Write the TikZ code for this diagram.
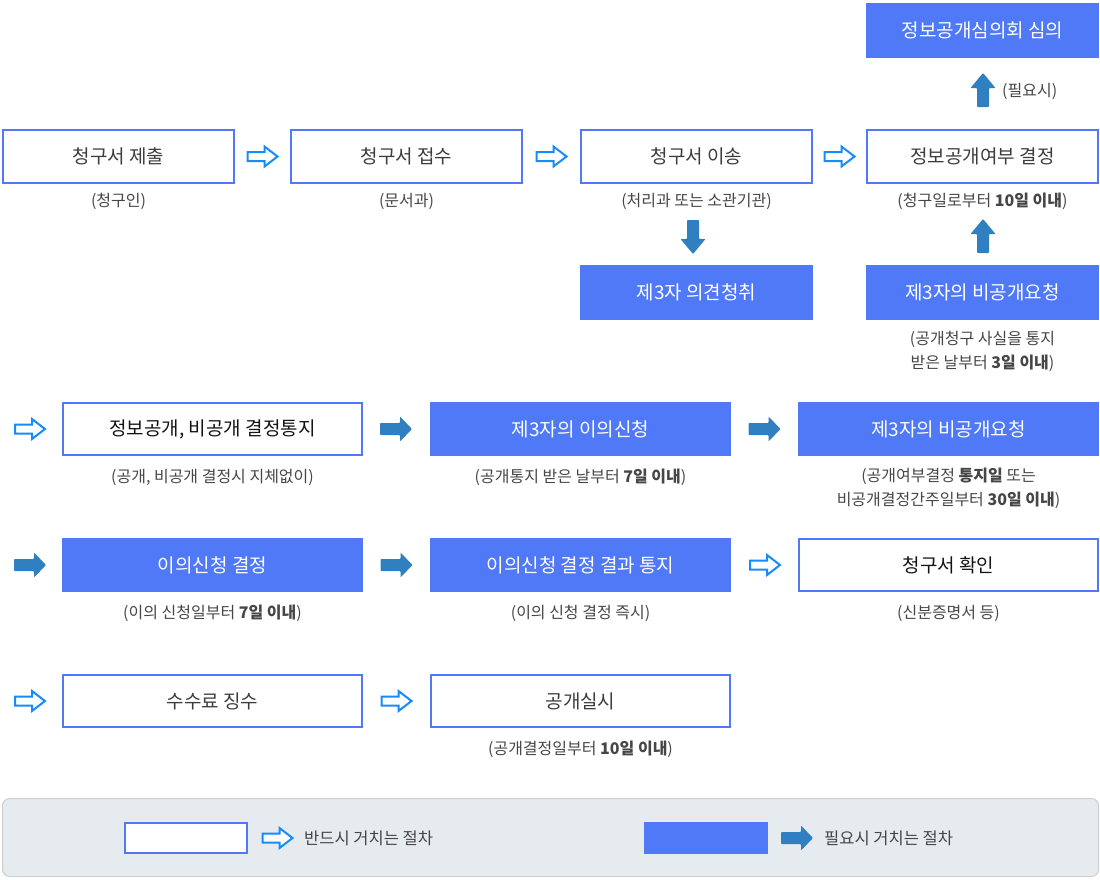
\documentclass[tikz,border=0pt]{standalone}
\usepackage{fontspec}
\setmainfont{Noto Sans CJK KR}
\usetikzlibrary{calc}
\definecolor{boxblue}{RGB}{80,121,248}
\definecolor{arrblue}{RGB}{47,127,193}
\definecolor{holblue}{RGB}{22,140,250}
\definecolor{txtbox}{RGB}{60,60,60}
\definecolor{txtdark}{RGB}{20,20,20}
\definecolor{txtcap}{RGB}{70,70,70}
\definecolor{legbg}{RGB}{230,235,240}
\definecolor{legline}{RGB}{204,208,212}
\tikzset{
  wbox/.style={draw=boxblue, line width=2pt, fill=white, text=txtbox, inner sep=0pt, outer sep=0pt,
    font=\fontsize{19}{22}\selectfont},
  fbox/.style={fill=boxblue, text=white, inner sep=0pt, outer sep=0pt,
    font=\fontsize{19}{22}\selectfont},
  wsmall/.style={wbox, minimum width=231, minimum height=53},
  fsmall/.style={fbox, minimum width=233, minimum height=55},
  wlarge/.style={wbox, minimum width=299, minimum height=52},
  flarge/.style={fbox, minimum width=301, minimum height=54},
  captext/.style={text=txtcap, align=center, inner sep=0pt, font=\fontsize{16}{24}\selectfont},
  legtext/.style={text=txtcap, anchor=west, inner sep=0pt, font=\fontsize{16.5}{19}\selectfont},
  hollowR/.pic={\draw[holblue, line width=2pt, fill=white, line join=miter]
      (-15,-4.5) -- (2,-4.5) -- (2,-10) -- (15,0) -- (2,10) -- (2,4.5) -- (-15,4.5) -- cycle;},
  filledR/.pic={\fill[arrblue, rounded corners=0.8pt]
      (-16,-6) -- (4,-6) -- (4,-12.5) -- (16,0) -- (4,12.5) -- (4,6) -- (-16,6) -- cycle;},
  filledD/.pic={\fill[arrblue, rounded corners=0.8pt]
      (-6,-17) -- (6,-17) -- (6,2) -- (12.5,2) -- (0,17) -- (-12.5,2) -- (-6,2) -- cycle;},
  filledU/.pic={\fill[arrblue, rounded corners=0.8pt]
      (-6,17) -- (6,17) -- (6,-2) -- (12.5,-2) -- (0,-17) -- (-12.5,-2) -- (-6,-2) -- cycle;},
}
\begin{document}
\begin{tikzpicture}[x=1pt, y=-1pt]
\useasboundingbox (0,0) rectangle (1100,879);

% row 0
\node[fsmall] (council) at (982.5,30.5) {정보공개심의회 심의};
% row 1
\node[wsmall] (submit) at (118.5,156.5) {청구서 제출};
\node[wsmall] (receive) at (406.5,156.5) {청구서 접수};
\node[wsmall] (transfer) at (696.5,156.5) {청구서 이송};
\node[wsmall] (decide) at (982.5,156.5) {정보공개여부 결정};
\node[captext] (c1) at (118.5,201) {(청구인)};
\node[captext] (c2) at (406.5,201) {(문서과)};
\node[captext] (c3) at (696.5,201) {(처리과 또는 소관기관)};
\node[captext] (c4) at (982.5,201) {(청구일로부터 \textbf{10일 이내})};
\pic (a01) at ($(submit.east)!0.5!(receive.west)$) {hollowR};
\pic (a02) at ($(receive.east)!0.5!(transfer.west)$) {hollowR};
\pic (a03) at ($(transfer.east)!0.5!(decide.west)$) {hollowR};
\pic (a04) at (983,90) {filledU};
\node[captext, anchor=west] (need) at (1002,91) {(필요시)};
% row 2
\node[fsmall] (opinion) at (696.5,292.5) {제3자 의견청취};
\node[fsmall] (nondisc) at (982.5,292.5) {제3자의 비공개요청};
\pic (a05) at (693,237) {filledD};
\pic (a06) at (983,236) {filledU};
\node[captext] (c5) at (982.5,351) {(공개청구 사실을 통지\\받은 날부터 \textbf{3일 이내})};
% row 3
\node[wlarge, text=txtdark] (notice) at (212.5,429) {정보공개, 비공개 결정통지};
\node[flarge] (objection) at (580.5,429) {제3자의 이의신청};
\node[flarge] (nondisc2) at (948.5,429) {제3자의 비공개요청};
\pic (a07) at (30,429) {hollowR};
\pic (a08) at ($(notice.east)!0.5!(objection.west)$) {filledR};
\pic (a09) at ($(objection.east)!0.5!(nondisc2.west)$) {filledR};
\node[captext] (c6) at (212.5,477) {(공개, 비공개 결정시 지체없이)};
\node[captext] (c7) at (580.5,477) {(공개통지 받은 날부터 \textbf{7일 이내})};
\node[captext] (c8) at (948.5,488.5) {(공개여부결정 \textbf{통지일} 또는\\비공개결정간주일부터 \textbf{30일 이내})};
% row 4
\node[flarge] (objdec) at (212.5,565) {이의신청 결정};
\node[flarge] (objres) at (580.5,565) {이의신청 결정 결과 통지};
\node[wlarge, text=txtdark] (idcheck) at (948.5,565) {청구서 확인};
\pic (a10) at (30,565) {filledR};
\pic (a11) at ($(objdec.east)!0.5!(objres.west)$) {filledR};
\pic (a12) at ($(objres.east)!0.5!(idcheck.west)$) {hollowR};
\node[captext] (c9) at (212.5,613) {(이의 신청일부터 \textbf{7일 이내})};
\node[captext] (c10) at (580.5,613) {(이의 신청 결정 즉시)};
\node[captext] (c11) at (948.5,613) {(신분증명서 등)};
% row 5
\node[wlarge] (fee) at (212.5,701) {수수료 징수};
\node[wlarge] (open) at (580.5,701) {공개실시};
\pic (a13) at (30,701) {hollowR};
\pic (a14) at ($(fee.east)!0.5!(open.west)$) {hollowR};
\node[captext] (c12) at (580.5,749) {(공개결정일부터 \textbf{10일 이내})};
% legend
\draw[legline, fill=legbg, line width=1pt, rounded corners=7pt] (2.5,798.5) rectangle (1098.5,876.5);
\node[wbox, minimum width=122, minimum height=30] (lw) at (185.5,838) {};
\pic (la1) at (277.5,838) {hollowR};
\node[legtext] (lt1) at (304,838) {반드시 거치는 절차};
\node[fbox, minimum width=124, minimum height=32] (lf) at (706,838) {};
\pic (la2) at (797,838) {filledR};
\node[legtext] (lt2) at (824,838) {필요시 거치는 절차};
\end{tikzpicture}
\end{document}
